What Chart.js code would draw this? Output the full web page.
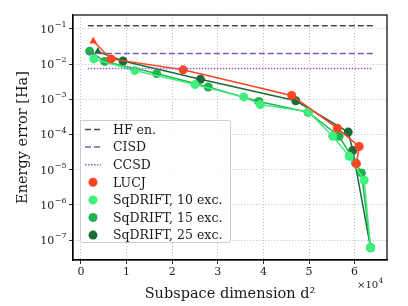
<!DOCTYPE html>
<html>
<head>
<meta charset="utf-8">
<script src="https://cdn.jsdelivr.net/npm/chart.js@4.4.1/dist/chart.umd.min.js"></script>
<style>
  html, body { margin: 0; padding: 0; background: #fff; }
  #wrap { width: 408px; height: 306px; }
</style>
</head>
<body>
<div id="wrap"><canvas id="chart"></canvas></div>
<script>
const lucjX = [2700, 6600, 22400, 46200, 56200, 61000, 60400];
const lucjY = [4.47e-2, 1.41e-2, 6.9e-3, 1.29e-3, 1.51e-4, 4.57e-5, 1.48e-5];
const lucjStyle = ["triangle", "circle", "circle", "circle", "circle", "circle", "circle"];

const sq10X = [2800, 11800, 25000, 35700, 39300, 49900, 55200, 58800, 62100, 63504];
const sq10Y = [1.41e-2, 6.6e-3, 2.63e-3, 1.17e-3, 7.1e-4, 4.4e-4, 8.9e-5, 2.4e-5, 5.0e-6, 6.0e-8];

const sq15X = [1900, 5200, 16600, 27900, 39000, 49800, 56600, 60200, 61500, 63504];
const sq15Y = [2.34e-2, 1.2e-2, 5.4e-3, 2.24e-3, 8.7e-4, 4.3e-4, 8.9e-5, 1.55e-5, 8.1e-6, 6.0e-8];

const sq25X = [3700, 9200, 26200, 47100, 58600, 59600, 63504];
const sq25Y = [2.3e-2, 1.23e-2, 3.7e-3, 9.1e-4, 1.17e-4, 3.5e-5, 6.0e-8];
const sq25Style = ["triangle", "circle", "circle", "circle", "circle", "circle", "circle"];

const refX = [1500, 64000];
const hfWert = 0.124;
const cisdWert = 0.020;
const ccsdWert = 0.0075;

const xTicks = [0, 10000, 20000, 30000, 40000, 50000, 60000];
const yTicks = [1e-7, 1e-6, 1e-5, 1e-4, 1e-3, 1e-2, 1e-1];
const yExponenten = ["−7", "−6", "−5", "−4", "−3", "−2", "−1"];

const SERIF = "'DejaVu Serif', 'Liberation Serif', serif";

function punkte(xs, ys) {
  return xs.map((x, i) => ({ x: x, y: ys[i] }));
}

function linie(label, wert, farbe, dash) {
  return {
    label, data: punkte(refX, [wert, wert]),
    borderColor: farbe, backgroundColor: farbe,
    borderWidth: 1.5, borderDash: dash, pointRadius: 0, legendeTyp: "linie"
  };
}

function serie(label, xs, ys, farbe, styles) {
  return {
    label, data: punkte(xs, ys),
    borderColor: farbe, backgroundColor: farbe,
    borderWidth: 1.5, pointRadius: 4.5, pointStyle: styles || "circle",
    pointBorderWidth: 0, legendeTyp: "punkt"
  };
}

const datasets = [
  linie("HF en.", hfWert, "#4a4a4a", [6, 3]),
  linie("CISD", cisdWert, "#7d5ba6", [6, 3]),
  linie("CCSD", ccsdWert, "#8e63b8", [1.5, 1.5]),
  serie("LUCJ", lucjX, lucjY, "#ff4422", lucjStyle),
  serie("SqDRIFT, 10 exc.", sq10X, sq10Y, "#3ff07c"),
  serie("SqDRIFT, 15 exc.", sq15X, sq15Y, "#22b34f"),
  serie("SqDRIFT, 25 exc.", sq25X, sq25Y, "#1d6b3a", sq25Style)
];

// Rahmen, Legende im Plot, y-Beschriftung mit Exponent, Faktor der x-Achse
const extras = {
  id: "extras",
  afterDatasetsDraw(chart) {
    const ctx = chart.ctx;
    const a = chart.chartArea;
    ctx.save();
    ctx.strokeStyle = "#000";
    ctx.lineWidth = 1.2;
    ctx.strokeRect(a.left, a.top, a.right - a.left, a.bottom - a.top);

    // Legende
    const bx = 80.5, by = 120.5, bw = 150, bh = 122;
    ctx.fillStyle = "rgba(255,255,255,0.85)";
    ctx.strokeStyle = "#cccccc";
    ctx.lineWidth = 1;
    ctx.beginPath();
    ctx.roundRect(bx, by, bw, bh, 2);
    ctx.fill();
    ctx.stroke();
    ctx.font = "12.5px " + SERIF;
    ctx.textBaseline = "middle";
    ctx.textAlign = "left";
    chart.data.datasets.forEach((ds, i) => {
      const y = 129.5 + i * 17.6;
      if (ds.legendeTyp === "linie") {
        ctx.strokeStyle = ds.borderColor;
        ctx.lineWidth = 1.5;
        ctx.setLineDash(ds.borderDash);
        ctx.beginPath();
        ctx.moveTo(85, y);
        ctx.lineTo(101, y);
        ctx.stroke();
        ctx.setLineDash([]);
      } else {
        ctx.fillStyle = ds.backgroundColor;
        ctx.beginPath();
        ctx.arc(93, y, 4.5, 0, Math.PI * 2);
        ctx.fill();
      }
      ctx.fillStyle = "#1a1a1a";
      ctx.fillText(ds.label, 113, y + 1);
    });

    // y-Achse: 10 hoch Exponent
    const ys = chart.scales.y;
    ctx.fillStyle = "#222";
    yTicks.forEach((t, i) => {
      const py = ys.getPixelForValue(t);
      ctx.font = "11px " + SERIF;
      const wBasis = ctx.measureText("10").width;
      ctx.font = "8px " + SERIF;
      const wExp = ctx.measureText(yExponenten[i]).width;
      const x0 = 66 - wBasis - wExp;
      ctx.font = "11px " + SERIF;
      ctx.fillText("10", x0, py + 1);
      ctx.font = "8px " + SERIF;
      ctx.fillText(yExponenten[i], x0 + wBasis + 0.5, py - 4);
    });

    ctx.font = "10px " + SERIF;
    ctx.fillStyle = "#1a1a1a";
    ctx.fillText("×10", 357, 285);
    const w = ctx.measureText("×10").width;
    ctx.font = "7.5px " + SERIF;
    ctx.fillText("4", 357 + w + 0.5, 281);
    ctx.restore();
  }
};

new Chart(document.getElementById("chart"), {
  type: "line",
  data: { datasets },
  plugins: [extras],
  options: {
    responsive: true,
    maintainAspectRatio: false,
    animation: false,
    layout: { padding: { top: 15, right: 21, left: 0, bottom: 0 } },
    plugins: { legend: { display: false }, tooltip: { enabled: false } },
    scales: {
      x: {
        type: "linear",
        min: -1750,
        max: 67100,
        afterBuildTicks: s => { s.ticks = xTicks.map(v => ({ value: v })); },
        afterFit: s => { s.height = 46; },
        ticks: {
          callback: v => String(v / 10000),
          font: { family: SERIF, size: 11 },
          color: "#222",
          padding: 2,
          maxRotation: 0
        },
        grid: { color: "#b0b0b0", lineWidth: 0.8, tickLength: 4, tickColor: "#000", tickBorderDash: [] },
        border: { color: "#000", width: 1.2, dash: [1, 2] },
        title: {
          display: true, text: "Subspace dimension d²",
          font: { family: SERIF, size: 14.5 }, color: "#1a1a1a",
          padding: { top: 0, bottom: 3 }
        }
      },
      y: {
        type: "logarithmic",
        min: 2.7e-8,
        max: 0.25,
        afterBuildTicks: s => { s.ticks = yTicks.map(v => ({ value: v })); },
        afterFit: s => { s.width = 73; },
        ticks: { display: false },
        grid: { color: "#b0b0b0", lineWidth: 0.8, tickLength: 4, tickColor: "#000", tickBorderDash: [] },
        border: { color: "#000", width: 1.2, dash: [1, 2] },
        title: {
          display: true, text: "Energy error [Ha]",
          font: { family: SERIF, size: 14.5 }, color: "#1a1a1a",
          padding: { top: 15, bottom: 0 }
        }
      }
    }
  }
});
</script>
</body>
</html>
